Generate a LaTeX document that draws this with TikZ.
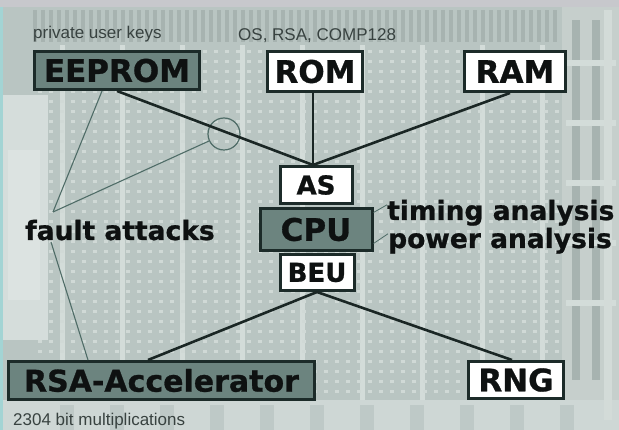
\documentclass[tikz,border=0pt]{standalone}
\usepackage{fontspec}
\newfontfamily\dvs[BoldFeatures={FakeBold=0.9}]{DejaVu Sans}
\newfontfamily\lib{Liberation Sans}
\usetikzlibrary{calc}
\definecolor{bgmain}{HTML}{B9C5C2}
\definecolor{bgdot}{HTML}{D0D9D6}
\definecolor{bgstripe}{HTML}{D3DCD9}
\definecolor{bgtop}{HTML}{C7C8CC}
\definecolor{bgbar}{HTML}{A7B3B0}
\definecolor{bglight}{HTML}{DCE3E1}
\definecolor{bgright}{HTML}{C6CFCC}
\definecolor{bgcyan}{HTML}{A3D4D4}
\definecolor{boxfill}{HTML}{6C847F}
\definecolor{boxline}{HTML}{1C2B29}
\definecolor{connc}{HTML}{1A2624}
\definecolor{faintc}{HTML}{4F6C67}
\definecolor{txt}{HTML}{0E1111}
\definecolor{notec}{HTML}{384240}
\tikzset{
  graybox/.style={draw=boxline, line width=3pt, fill=boxfill, inner sep=0pt,
    font=\dvs\bfseries\fontsize{31}{31}\selectfont, text=txt},
  whitebox/.style={graybox, fill=white},
  smallbox/.style={font=\dvs\bfseries\fontsize{26}{26}\selectfont},
  conn/.style={draw=connc, line width=2.6pt},
  faultline/.style={draw=faintc, line width=1.1pt},
  lbl/.style={font=\dvs\bfseries\fontsize{26.5}{26.5}\selectfont, inner sep=0pt, text=txt},
  note/.style={font=\lib\fontsize{17}{17}\selectfont, inner sep=0pt, text=notec},
}
\begin{document}
\begin{tikzpicture}[x=1pt,y=-1pt]
% ---------- background (chip photo, approximated) ----------
\useasboundingbox (0,0) rectangle (619,430);
\fill[bgmain] (0,0) rectangle (619,430);
\fill[bgright] (562,7) rectangle (619,430);
\fill[bglight!60!bgmain] (0,400) rectangle (619,430);
\foreach \x in {33,41,...,555} \fill[bgbar] (\x,10) rectangle ++(4,32);
\foreach \x in {60,120,...,540} \fill[bgstripe] (\x,45) rectangle ++(5,355);
\foreach \x in {38,49,...,555} {
  \foreach \y in {50,60,...,395} \fill[bgdot] (\x,\y) rectangle ++(4,3);
}
\foreach \x in {572,592} \fill[bgmain!85!black!0!bgbar] (\x,20) rectangle ++(8,360);
\foreach \y in {60,120,180,240,300} \fill[bgstripe] (566,\y) rectangle ++(50,6);
\fill[bglight!60!bgright] (604,10) rectangle (612,420);
\foreach \x in {60,110,...,560} \fill[bgmain!85!bglight] (\x,405) rectangle ++(14,25);
\fill[bglight!80!bgmain] (3,95) rectangle (48,340);
\fill[bglight] (8,150) rectangle (40,300);
\fill[bgtop] (0,0) rectangle (619,7);
\fill[bgcyan] (0,7) rectangle (3,430);
% ---------- boxes ----------
\node[graybox, minimum width=165pt, minimum height=38pt] (eeprom) at (117,70.5) {EEPROM};
\node[whitebox, minimum width=95pt, minimum height=40pt] (rom) at (315,71.5) {ROM};
\node[whitebox, minimum width=101pt, minimum height=40pt] (ram) at (515,71.5) {RAM};
\node[whitebox, smallbox, minimum width=72pt, minimum height=37pt] (as) at (316,185) {AS};
\node[whitebox, smallbox, minimum width=74pt, minimum height=36pt] (beu) at (317,272.5) {BEU};
\node[graybox, minimum width=112pt, minimum height=42pt] (cpu) at (316,229.5) {CPU};
\node[graybox, font=\dvs\bfseries\fontsize{30}{30}\selectfont, minimum width=306pt, minimum height=38pt] (rsa) at (161.5,380.5) {RSA-Accelerator};
\node[whitebox, minimum width=95pt, minimum height=37pt] (rng) at (516,380) {RNG};
% ---------- texts ----------
\node[note, anchor=base west] (keys) at (33,39) {private user keys};
\node[note, anchor=base west] (os) at (238,41) {OS, RSA, COMP128};
\node[note, anchor=base west] (mult) at (13,425) {2304 bit multiplications};
\node[lbl, anchor=base west] (fault) at (25,240) {fault attacks};
\node[lbl, anchor=base west] (timing) at (387,220) {timing analysis};
\node[lbl, anchor=base west] (power) at (388,248) {power analysis};
% ---------- circle marking the probed line ----------
\node[draw=faintc, line width=1.2pt, circle, minimum size=32pt, inner sep=0pt] (circ) at (224,134) {};
% ---------- connectors ----------
\coordinate (apex) at ([xshift=-3pt]as.north);
\draw[conn] (eeprom.south) -- (apex);
\draw[conn] ([xshift=-2pt]rom.south) -- (apex);
\draw[conn] ([xshift=-5pt]ram.south) -- (apex);
\draw[conn] (beu.south) -- ([xshift=-13.5pt]rsa.north);
\draw[conn] (beu.south) -- ([xshift=-4pt]rng.north);
% fault-attack lines
\coordinate (fa1) at (53,212);
\coordinate (fa2) at (51,242);
\draw[faultline] (fa1) -- ([xshift=-15pt]eeprom.south);
\draw[faultline] (fa1) -- (circ.205);
\draw[faultline] (fa2) -- ([xshift=-73.5pt]rsa.north);
% analysis ticks
\draw[faultline, line width=0.8pt] ([yshift=17pt]cpu.east) -- ([yshift=8pt]timing.west);
\draw[faultline, line width=0.8pt] ([yshift=-14pt]cpu.east) -- ([yshift=7pt]power.west);
\end{tikzpicture}
\end{document}
